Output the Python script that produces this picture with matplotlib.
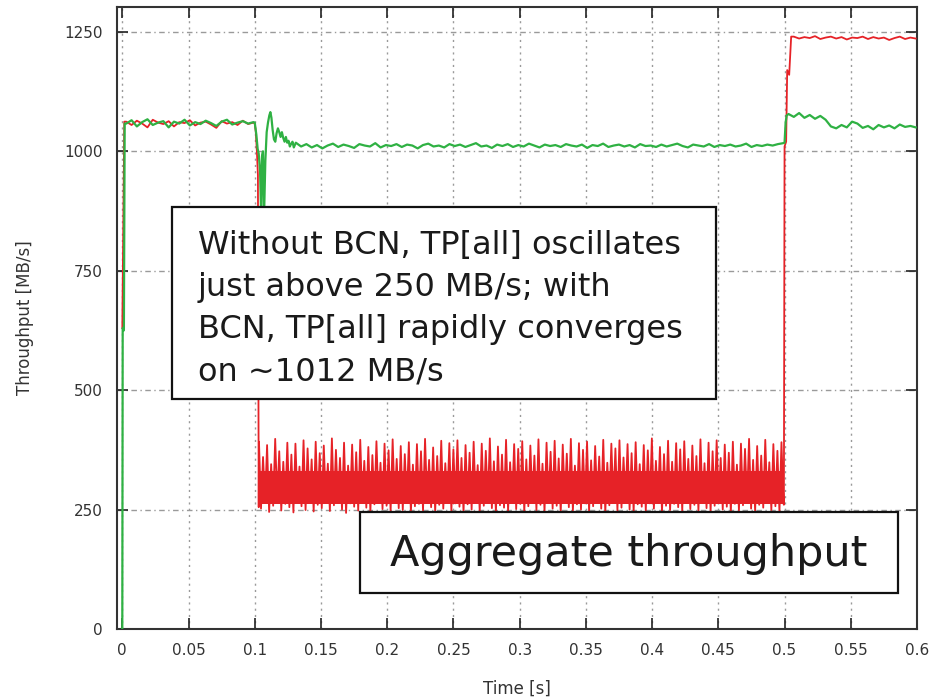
import numpy as np
import matplotlib
matplotlib.use("Agg")
import matplotlib.pyplot as plt
from matplotlib.patches import Rectangle
from matplotlib.ticker import FormatStrFormatter

# ---- data (time in s, throughput in MB/s) ----
# start-up ramp
green_start_t = [0.0, 0.0003, 0.0012, 0.0018]
green_start_v = [0, 630, 625, 1058]
red_start_t = [0.0, 0.0015]
red_start_v = [630, 1062]

# 0 .. 0.1 s, both flows near 1060
steady1_green = [1058, 1065, 1052, 1061, 1067, 1055, 1060, 1063, 1050, 1062,
                 1058, 1066, 1054, 1061, 1057, 1064, 1059, 1053, 1062, 1066,
                 1056, 1060, 1063, 1058, 1061]
steady1_red = [1062, 1055, 1064, 1058, 1050, 1066, 1060, 1057, 1063, 1052,
               1061, 1059, 1065, 1054, 1060, 1062, 1056, 1049, 1063, 1058,
               1061, 1055, 1064, 1057, 1060]

# congestion onset at 0.1 s, BCN (green) transient
green_dip_t = [0.1000, 0.1012, 0.1022, 0.1030, 0.1040, 0.1048, 0.1055, 0.1062,
               0.1070, 0.1080, 0.1090, 0.1100, 0.1110, 0.1118, 0.1126, 0.1135,
               0.1145, 0.1155, 0.1165, 0.1175, 0.1185, 0.1195, 0.1205, 0.1215,
               0.1225, 0.1235, 0.1245, 0.1255, 0.1265, 0.1275, 0.1285, 0.1295]
green_dip_v = [1060, 1035, 1005, 995, 960, 870, 990, 1000,
               860, 980, 1040, 1060, 1075, 1082, 1070, 1045,
               1025, 1020, 1038, 1048, 1040, 1030, 1040, 1028,
               1020, 1030, 1018, 1022, 1010, 1016, 1020, 1008]
red_drop_t = [0.1000, 0.1008, 0.1016, 0.1024, 0.1030]
red_drop_v = [1058, 1040, 1000, 950, 255]

# 0.13 .. 0.5 s, green converges on ~1012
steady2_green = [1018, 1010, 1015, 1008, 1013, 1006, 1012, 1016, 1009, 1014,
                 1011, 1007, 1015, 1012, 1010, 1017, 1008, 1013, 1011, 1015,
                 1009, 1014, 1012, 1006, 1013, 1016, 1010, 1012, 1008, 1015,
                 1011, 1014, 1009, 1013, 1017, 1010, 1012, 1007, 1014, 1011,
                 1015, 1009, 1013, 1010, 1016, 1012, 1008, 1014, 1011, 1013,
                 1009, 1015, 1012, 1010, 1014, 1007, 1013, 1011, 1016, 1009,
                 1012, 1014, 1010, 1013, 1008, 1015, 1011, 1012, 1009, 1014,
                 1010, 1013, 1016, 1011, 1008, 1014, 1012, 1010, 1015, 1009,
                 1013, 1011, 1014, 1010, 1012, 1016, 1009, 1013, 1011, 1014,
                 1012, 1015, 1017]

# 0.1 .. 0.5 s, red (no BCN) oscillation peaks and troughs
osc_hi = [392, 360, 385, 345, 398, 372, 350, 390, 365, 388,
          340, 395, 378, 355, 392, 368, 384, 346, 399, 375,
          358, 390, 342, 386, 370, 396, 352, 381, 364, 393,
          348, 388, 374, 397, 356, 383, 366, 391, 344, 387,
          372, 398, 354, 380, 362, 394, 347, 389, 376, 395,
          358, 385, 369, 392, 343, 388, 373, 399, 351, 382,
          365, 396, 349, 387, 377, 393, 355, 384, 363, 397,
          346, 390, 371, 394, 357, 386, 367, 398, 342, 389,
          375, 392, 353, 383, 361, 396, 348, 388, 378, 395,
          359, 387, 368, 391, 345, 385, 374, 399, 352, 381,
          366, 394, 350, 389, 376, 393, 356, 384, 362, 397,
          347, 390, 372, 395, 358, 386, 369, 392, 344, 388,
          377, 398, 354, 383, 363, 396, 349, 387, 373, 391]
osc_lo = [252, 266, 245, 258, 271, 248, 262, 255, 244, 268,
          257, 249, 264, 246, 260, 253, 270, 247, 259, 265,
          250, 243, 263, 256, 248, 267, 254, 245, 261, 269,
          251, 258, 246, 264, 253, 249, 266, 244, 257, 262,
          248, 270, 255, 245, 260, 252, 267, 247, 263, 256,
          244, 261, 250, 268, 246, 258, 265, 253, 243, 259,
          254, 247, 266, 251, 262, 245, 257, 269, 249, 260,
          246, 264, 252, 258, 243, 267, 255, 248, 261, 250,
          263, 246, 257, 270, 252, 244, 259, 265, 248, 254,
          268, 250, 245, 261, 256, 247, 263, 252, 266, 244,
          258, 249, 262, 255, 246, 269, 251, 260, 247, 264,
          253, 245, 258, 267, 250, 256, 243, 262, 248, 259,
          265, 252, 246, 260, 254, 268, 249, 257, 244, 263]
osc_core = (262, 330)

# congestion ends at 0.5 s
red_rise_t = [0.4995, 0.5000, 0.5012, 0.5020, 0.5035, 0.5050]
red_rise_v = [260, 1010, 1020, 1170, 1160, 1240]
green_rise_t = [0.5000, 0.5008, 0.5016]
green_rise_v = [1018, 1060, 1075]

steady3_green = [1078, 1072, 1080, 1070, 1076, 1068, 1074, 1066, 1052, 1048,
                 1055, 1050, 1062, 1058, 1049, 1053, 1046, 1055, 1050, 1054,
                 1048, 1056, 1051, 1053, 1050]
steady3_red = [1240, 1236, 1239, 1237, 1241, 1235, 1238, 1240, 1236, 1239,
               1234, 1238, 1237, 1240, 1235, 1239, 1236, 1238, 1233, 1237,
               1240, 1235, 1238, 1236]

x_ticks = [0, 0.05, 0.1, 0.15, 0.2, 0.25, 0.3, 0.35, 0.4, 0.45, 0.5, 0.55, 0.6]
y_ticks = [0, 250, 500, 750, 1000, 1250]

note_text = ("Without BCN, TP[all] oscillates\n"
             "just above 250 MB/s; with\n"
             "BCN, TP[all] rapidly converges\n"
             "on ~1012 MB/s")
title_text = "Aggregate throughput"

RED = "#e62227"
GREEN = "#2fb143"

# ---- assemble the series ----
osc_t = np.linspace(0.1032, 0.4992, 2 * len(osc_hi))
osc_v = np.empty(2 * len(osc_hi))
osc_v[0::2] = osc_hi
osc_v[1::2] = osc_lo

red_t = np.concatenate([red_start_t, np.linspace(0.003, 0.099, len(steady1_red)),
                        red_drop_t, osc_t, red_rise_t,
                        np.linspace(0.507, 0.599, len(steady3_red))])
red_v = np.concatenate([red_start_v, steady1_red, red_drop_v, osc_v,
                        red_rise_v, steady3_red])

green_t = np.concatenate([green_start_t, np.linspace(0.003, 0.099, len(steady1_green)),
                          green_dip_t, np.linspace(0.131, 0.499, len(steady2_green)),
                          green_rise_t, np.linspace(0.503, 0.599, len(steady3_green))])
green_v = np.concatenate([green_start_v, steady1_green, green_dip_v, steady2_green,
                          green_rise_v, steady3_green])

# ---- figure ----
fig = plt.figure(figsize=(9.38, 6.99), dpi=100)
ax = fig.add_axes([117 / 938, 1 - 629 / 699, 800 / 938, 622 / 699])

ax.fill_between([osc_t[0], osc_t[-1]], osc_core[0], osc_core[1],
                color=RED, lw=0, zorder=2)
ax.plot(red_t, red_v, color=RED, lw=1.3, zorder=3)
ax.plot(green_t, green_v, color=GREEN, lw=1.6, zorder=4)

ax.set_xlim(-0.004, 0.6)
ax.set_ylim(0, 1302)
ax.set_xticks(x_ticks)
ax.set_yticks(y_ticks)
ax.xaxis.set_major_formatter(FormatStrFormatter('%g'))

ax.grid(True, axis='x', color='#9a9a9a', linestyle=(0, (1.5, 3)), lw=1)
ax.grid(True, axis='y', color='#9a9a9a', linestyle=(0, (4, 2.5, 1, 2.5)), lw=1)
ax.set_axisbelow(True)

ax.tick_params(direction='in', length=8, width=1.2, top=True, right=True,
               labelsize=11, labelcolor='#333333', color='#222222', pad=10)
for s in ax.spines.values():
    s.set_linewidth(1.5)
    s.set_color('#333333')

ax.set_xlabel("Time [s]", fontsize=12, color='#333333', labelpad=16)
ax.set_ylabel("Throughput [MB/s]", fontsize=12, color='#333333', labelpad=22)

# annotation boxes
ax.add_patch(Rectangle((0.069, 0.370), 0.680, 0.308, transform=ax.transAxes,
                       facecolor='white', edgecolor='#111111', lw=1.6, zorder=6))
ax.text(0.101, 0.515, note_text, transform=ax.transAxes, fontsize=23,
        ha='left', va='center', linespacing=1.46, color='#1a1a1a', zorder=7)

ax.add_patch(Rectangle((0.304, 0.058), 0.672, 0.130, transform=ax.transAxes,
                       facecolor='white', edgecolor='#111111', lw=1.6, zorder=6))
ax.text(0.639, 0.121, title_text, transform=ax.transAxes, fontsize=31,
        ha='center', va='center', color='#1a1a1a', zorder=7)

fig.savefig("out.png", dpi=100)
